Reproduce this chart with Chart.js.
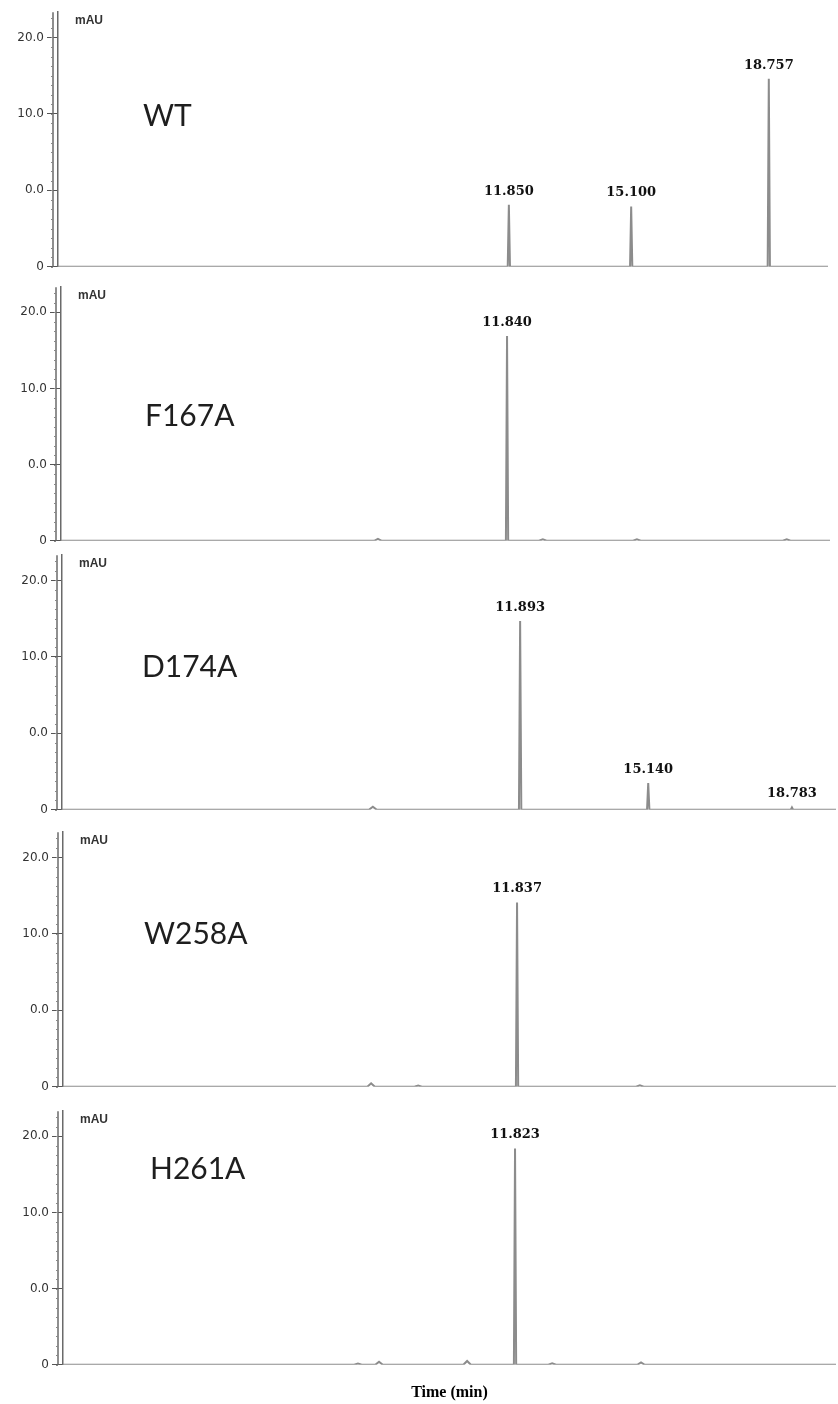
<!DOCTYPE html>
<html>
<head>
<meta charset="utf-8">
<title>HPLC chromatograms</title>
<script src="https://cdn.jsdelivr.net/npm/chart.js@4.4.1/dist/chart.umd.min.js"></script>
<style>
    html, body { margin: 0; padding: 0; background: #fff; }
    body { width: 838px; height: 1404px; position: relative; overflow: hidden; }
    .panel { position: absolute; left: 0; width: 838px; }
</style>
</head>
<body>
<div class="panel" id="panel0"><canvas id="chart0"></canvas></div>
<div class="panel" id="panel1"><canvas id="chart1"></canvas></div>
<div class="panel" id="panel2"><canvas id="chart2"></canvas></div>
<div class="panel" id="panel3"><canvas id="chart3"></canvas></div>
<div class="panel" id="panel4"><canvas id="chart4"></canvas></div>
<script>
const sampleNames = ['WT', 'F167A', 'D174A', 'W258A', 'H261A'];

// labelled peaks: retention time (min) and height (axis units)
const wtPeakTimes = [11.850, 15.100, 18.757];
const wtPeakHeights = [8.1, 7.9, 24.6];
const f167aPeakTimes = [11.840];
const f167aPeakHeights = [26.9];
const d174aPeakTimes = [11.893, 15.140, 18.783];
const d174aPeakHeights = [24.7, 3.5, 0.3];
const w258aPeakTimes = [11.837];
const w258aPeakHeights = [24.1];
const h261aPeakTimes = [11.823];
const h261aPeakHeights = [28.4];

// small unlabelled bumps on the baseline
const wtBumpTimes = [];
const wtBumpHeights = [];
const f167aBumpTimes = [8.41, 12.79, 15.29, 19.27];
const f167aBumpHeights = [0.25, 0.2, 0.2, 0.2];
const d174aBumpTimes = [8.16];
const d174aBumpHeights = [0.4];
const w258aBumpTimes = [7.96, 9.21, 15.10];
const w258aBumpHeights = [0.45, 0.15, 0.2];
const h261aBumpTimes = [7.65, 8.21, 10.55, 12.81, 15.17];
const h261aBumpHeights = [0.15, 0.4, 0.5, 0.2, 0.3];

const yTickValues = [0, 10, 20, 30];
const yTickLabels = ['0', '0.0', '10.0', '20.0'];

const peakTimes = [wtPeakTimes, f167aPeakTimes, d174aPeakTimes, w258aPeakTimes, h261aPeakTimes];
const peakHeights = [wtPeakHeights, f167aPeakHeights, d174aPeakHeights, w258aPeakHeights, h261aPeakHeights];
const bumpTimes = [wtBumpTimes, f167aBumpTimes, d174aBumpTimes, w258aBumpTimes, h261aBumpTimes];
const bumpHeights = [wtBumpHeights, f167aBumpHeights, d174aBumpHeights, w258aBumpHeights, h261aBumpHeights];

// page placement of each plot area and its time window
const panelLayout = [
    { top: 12,   bottom: 267,  left: 58, right: 828, tMin: -0.13,  tMax: 20.33, nameDx: 85, nameValue: 19.7 },
    { top: 287,  bottom: 541,  left: 61, right: 830, tMin: -0.01,  tMax: 20.42, nameDx: 84, nameValue: 16.3 },
    { top: 555,  bottom: 810,  left: 62, right: 836, tMin: 0.28,   tMax: 19.90, nameDx: 80, nameValue: 18.6 },
    { top: 832,  bottom: 1087, left: 63, right: 836, tMin: -0.225, tMax: 20.31, nameDx: 81, nameValue: 20.0 },
    { top: 1111, bottom: 1365, left: 63, right: 836, tMin: -0.186, tMax: 20.35, nameDx: 87, nameValue: 25.7 }
];
const yMax = 33.3;
const titleAxisHeight = 37;

window.addEventListener('load', initialize);

function initialize() {
    for (let i = 0; i < sampleNames.length; i++) {
        loadPanel(i);
    }
}

function buildTrace(i) {
    const layout = panelLayout[i];
    const marks = [];
    peakTimes[i].forEach((t, k) => marks.push({ t: t, h: peakHeights[i][k], w: 0.03 }));
    bumpTimes[i].forEach((t, k) => marks.push({ t: t, h: bumpHeights[i][k], w: 0.1 }));
    marks.sort((a, b) => a.t - b.t);

    const points = [{ x: layout.tMin, y: 0 }];
    for (const m of marks) {
        points.push({ x: m.t - m.w, y: 0 }, { x: m.t, y: m.h }, { x: m.t + m.w, y: 0 });
    }
    points.push({ x: layout.tMax, y: 0 });
    return points;
}

const decorPlugin = {
    id: 'decor',
    afterDraw(chart, args, opts) {
        const i = opts.panel;
        const layout = panelLayout[i];
        const { ctx, chartArea } = chart;
        const xs = chart.scales.x;
        const ys = chart.scales.y;
        const outerX = chartArea.left - 5;

        ctx.save();
        // second (outer) axis line
        ctx.strokeStyle = '#6a6a6a';
        ctx.lineWidth = 1.5;
        ctx.beginPath();
        ctx.moveTo(outerX, chartArea.top);
        ctx.lineTo(outerX, chartArea.bottom);
        ctx.stroke();

        // minor ticks along the outer line
        ctx.strokeStyle = '#888';
        ctx.lineWidth = 1;
        for (let v = 0; v <= ys.max; v += 1.25) {
            const y = Math.round(ys.getPixelForValue(v)) + 0.5;
            ctx.beginPath();
            ctx.moveTo(outerX - 2, y);
            ctx.lineTo(outerX, y);
            ctx.stroke();
        }

        // unit label
        ctx.fillStyle = '#333';
        ctx.font = 'bold 12px "Liberation Sans"';
        ctx.textAlign = 'left';
        ctx.textBaseline = 'middle';
        ctx.fillText('mAU', chartArea.left + 17, chartArea.top + 8);

        // sample name
        ctx.fillStyle = '#1e1e1e';
        ctx.font = '30px Lato';
        ctx.fillText(sampleNames[i], chartArea.left + layout.nameDx, ys.getPixelForValue(layout.nameValue));

        // retention time labels
        ctx.fillStyle = '#111';
        ctx.font = 'bold 13px "DejaVu Serif"';
        ctx.textAlign = 'center';
        ctx.textBaseline = 'bottom';
        peakTimes[i].forEach((t, k) => {
            ctx.fillText(t.toFixed(3), xs.getPixelForValue(t), ys.getPixelForValue(peakHeights[i][k]) - 7);
        });
        ctx.restore();
    }
};

function loadPanel(i) {
    const layout = panelLayout[i];
    const isLast = i === sampleNames.length - 1;
    const div = document.getElementById('panel' + i);
    const plotHeight = layout.bottom - layout.top;
    div.style.top = (layout.top - 10) + 'px';
    div.style.height = (plotHeight + 10 + (isLast ? titleAxisHeight : 10)) + 'px';

    const ctx = document.getElementById('chart' + i).getContext('2d');
    new Chart(ctx, {
        type: 'line',
        data: {
            datasets: [{
                label: sampleNames[i],
                data: buildTrace(i),
                borderColor: '#8c8c8c',
                borderWidth: 2,
                pointRadius: 0,
                tension: 0,
                fill: false
            }]
        },
        options: {
            responsive: true,
            maintainAspectRatio: false,
            animation: false,
            layout: { padding: { top: 10, bottom: isLast ? 0 : 10, left: 0, right: 838 - layout.right } },
            plugins: {
                legend: { display: false },
                tooltip: { enabled: false },
                decor: { panel: i }
            },
            scales: {
                x: {
                    type: 'linear',
                    min: layout.tMin,
                    max: layout.tMax,
                    display: isLast,
                    ticks: { display: false },
                    grid: { display: false, drawTicks: false },
                    border: { display: false },
                    title: {
                        display: isLast,
                        text: 'Time (min)',
                        color: '#000',
                        font: { family: '"Liberation Serif"', size: 16, weight: 'bold' },
                        padding: { top: 18, bottom: 0 }
                    }
                },
                y: {
                    min: 0,
                    max: yMax,
                    afterFit: s => { s.width = layout.left; },
                    afterBuildTicks: s => { s.ticks = yTickValues.map(v => ({ value: v })); },
                    ticks: {
                        padding: 3,
                        color: '#333',
                        font: { family: '"DejaVu Sans"', size: 12 },
                        callback: v => yTickLabels[yTickValues.indexOf(v)]
                    },
                    grid: {
                        drawOnChartArea: false,
                        tickLength: 11,
                        tickColor: '#555',
                        tickWidth: 1
                    },
                    border: { display: true, color: '#6a6a6a', width: 1.5 }
                }
            }
        },
        plugins: [decorPlugin]
    });
}
</script>
</body>
</html>
